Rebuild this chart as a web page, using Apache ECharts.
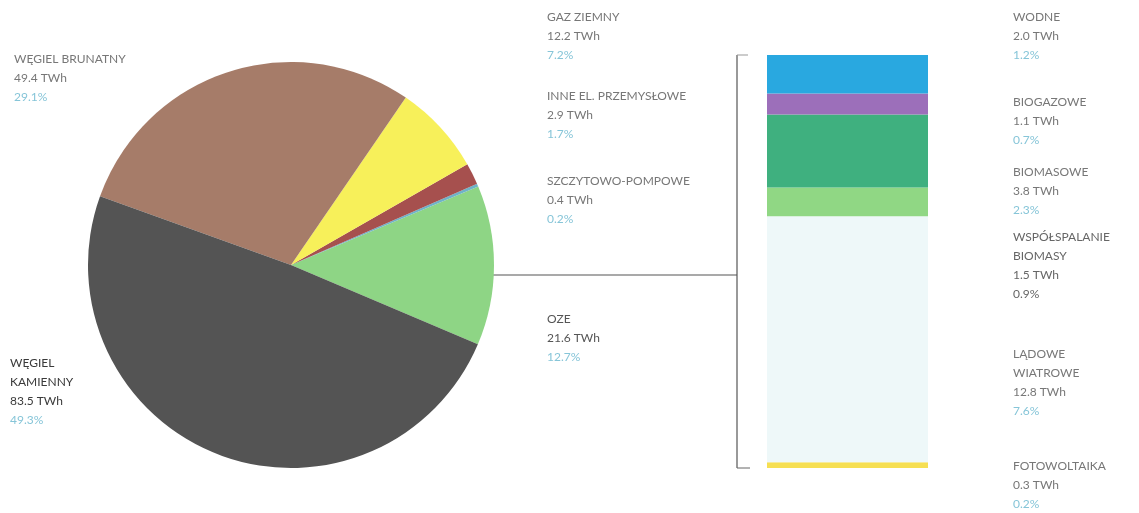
<!DOCTYPE html>
<html>
<head>
<meta charset="utf-8">
<script src="https://cdn.jsdelivr.net/npm/echarts@6/dist/echarts.min.js"></script>
<style>
  html, body { margin: 0; padding: 0; background: #fff; }
  #chart { width: 1139px; height: 513px; }
</style>
</head>
<body>
<div id="chart"></div>
<script>
  // produkcja energii - źródła (TWh), kolejność przeciwnie do wskazówek zegara od OZE
  var pieNames = ['OZE', 'SZCZYTOWO-POMPOWE', 'INNE EL. PRZEMYSŁOWE', 'GAZ ZIEMNY', 'WĘGIEL BRUNATNY', 'WĘGIEL\nKAMIENNY']
  var pieValues = [21.6, 0.4, 2.9, 12.2, 49.4, 83.5]
  var piePercents = ['12.7%', '0.2%', '1.7%', '7.2%', '29.1%', '49.3%']
  var pieColors = ['#8ed585', '#6fb3c8', '#a6504e', '#f7f05a', '#a67c69', '#545454']

  // rozbicie OZE, od dołu słupka
  var ozeNames = ['FOTOWOLTAIKA', 'LĄDOWE\nWIATROWE', 'WSPÓŁSPALANIE\nBIOMASY', 'BIOMASOWE', 'BIOGAZOWE', 'WODNE']
  var ozeValues = [0.3, 12.8, 1.5, 3.8, 1.1, 2.0]
  var ozePercents = ['0.2%', '7.6%', '0.9%', '2.3%', '0.7%', '1.2%']
  var ozeColors = ['#f6df52', '#eef8f9', '#90d784', '#3fb07f', '#9c6fba', '#29a8e0']

  // pozycje opisów (lewy górny róg)
  var pieLabelPos = [[547, 310], [547, 172], [547, 87], [547, 8], [14, 50], [10, 354]]
  var ozeLabelPos = [[1013, 457], [1013, 345], [1013, 228], [1013, 163], [1013, 93], [1013, 8]]

  var LH = 19
  function richLabel(name, val, pct) {
    var lines = name.split('\n').map(function (s) { return '{n|' + s + '}' })
    return lines.join('\n') + '\n{v|' + val.toFixed(1) + ' TWh}\n{p|' + pct + '}'
  }
  function richStyle(color, pctColor) {
    return {
      n: { color: color, fontSize: 12, lineHeight: LH, fontFamily: 'Lato' },
      v: { color: color, fontSize: 12, lineHeight: LH, fontFamily: 'Lato' },
      p: { color: pctColor || '#86c5d8', fontSize: 12, lineHeight: LH, fontFamily: 'Lato' }
    }
  }

  var total = 0
  ozeValues.forEach(function (v) { total += v })

  var chart = echarts.init(document.getElementById('chart'))

  var barSeries = ozeNames.map(function (name, i) {
    return {
      name: name,
      type: 'bar',
      stack: 'oze',
      barWidth: '100%',
      itemStyle: { color: ozeColors[i] },
      label: {
        show: true,
        position: 'right',
        formatter: richLabel(name, ozeValues[i], ozePercents[i]),
        rich: i == 2 ? richStyle('#666', '#666') : richStyle('#777')
      },
      labelLayout: {
        x: ozeLabelPos[i][0],
        y: ozeLabelPos[i][1],
        align: 'left',
        verticalAlign: 'top'
      },
      data: [ozeValues[i]]
    }
  })

  var option = {
    backgroundColor: '#fff',
    animation: false,
    grid: { left: 767, top: 55, width: 161, height: 413 },
    xAxis: { type: 'category', data: ['OZE'], show: false },
    yAxis: { type: 'value', min: 0, max: total, show: false },
    series: [
      {
        type: 'pie',
        center: [291, 265],
        radius: 203,
        startAngle: 337,
        clockwise: false,
        label: {
          show: true,
          position: 'outside',
          formatter: function (p) {
            return richLabel(pieNames[p.dataIndex], pieValues[p.dataIndex], piePercents[p.dataIndex])
          },
          rich: richStyle('#777')
        },
        labelLine: { show: false },
        labelLayout: function (params) {
          var pos = pieLabelPos[params.dataIndex]
          return { x: pos[0], y: pos[1], align: 'left', verticalAlign: 'top' }
        },
        data: pieNames.map(function (n, i) {
          var item = { name: n, value: pieValues[i], itemStyle: { color: pieColors[i] } }
          if (i == 5 || i == 0) {
            item.label = { rich: richStyle(i == 5 ? '#3a3a3a' : '#555') }
          }
          return item
        })
      }
    ].concat(barSeries),
    graphic: [
      // łącznik koło -> słupek
      { type: 'line', shape: { x1: 493, y1: 275, x2: 737, y2: 275 }, style: { stroke: '#555', lineWidth: 1.2 } },
      { type: 'line', shape: { x1: 737, y1: 55, x2: 737, y2: 468 }, style: { stroke: '#555', lineWidth: 1.2 } },
      { type: 'line', shape: { x1: 737, y1: 55, x2: 748, y2: 55 }, style: { stroke: '#999', lineWidth: 1 } },
      { type: 'line', shape: { x1: 737, y1: 468, x2: 750, y2: 468 }, style: { stroke: '#666', lineWidth: 1 } }
    ]
  }

  chart.setOption(option)
</script>
</body>
</html>
